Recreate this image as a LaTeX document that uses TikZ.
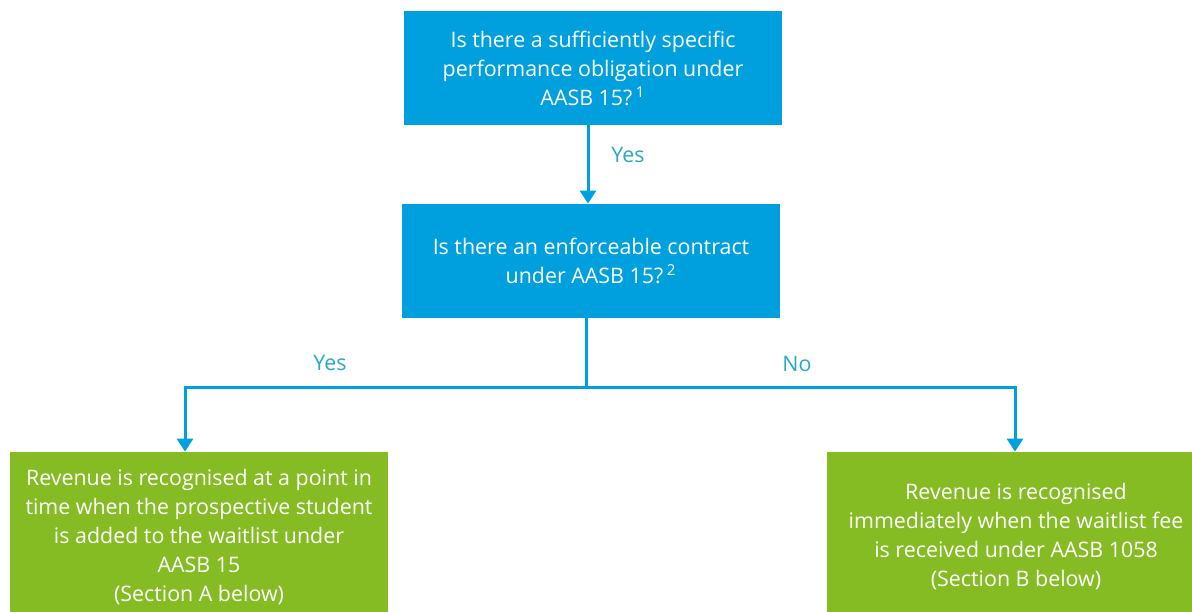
\documentclass[tikz,border=0pt]{standalone}
\usepackage{fontspec}
\setmainfont{Open Sans}
\usetikzlibrary{arrows.meta}

\definecolor{qblue}{RGB}{0,160,223}
\definecolor{rgreen}{RGB}{133,188,36}
\definecolor{ansteal}{RGB}{40,168,198}

\begin{document}
\begin{tikzpicture}[x=0.5pt,y=-0.5pt,font=\fontsize{10.7}{14.5}\selectfont]
        % Setup the styles for the boxes and arrows
        \tikzset{question/.style={fill=qblue,
                                  text=white,
                                  align=center,
                                  inner sep=0pt,
                                  minimum width=189pt,
                                  minimum height=57pt},
                 outcome/.style={question,
                                 fill=rgreen,
                                 minimum height=85pt},
                 flow/.style={draw=qblue,
                              line width=1.5pt},
                 answer/.style={text=ansteal}}

        \useasboundingbox (0,0) rectangle (1192,611);

        % Draw the boxes
        \node[question] at (593, 68)  (obligation) {Is there a sufficiently specific\\performance obligation under\\AASB 15?\,\textsuperscript{1}};
        \node[question] at (591, 261) (contract)   {Is there an enforceable contract\\under AASB 15?\,\textsuperscript{2}};
        \node[outcome]  at (199, 537) (pointtime)  {Revenue is recognised at a point in\\time when the prospective student\\is added to the waitlist under\\AASB 15\\(Section A below)};
        \node[outcome]  at (1016, 537) (immediate) {Revenue is recognised\\immediately when the waitlist fee\\is received under AASB 1058\\(Section B below)};

        % Branch points
        \coordinate (split) at (586, 387);
        \coordinate (armyes) at (185, 387);
        \coordinate (armno)  at (1015, 387);

        % Connect the boxes with arrows
        \draw[flow, -{Triangle[width=8pt,length=6.5pt]}]
            (obligation.south -| 588,0) -- (contract.north -| 588,0);
        \draw[flow] (contract.south -| split) -- (split);
        \draw[flow, -{Triangle[width=8pt,length=6.5pt]}]
            (split) -- (armyes) -- (armyes |- pointtime.north);
        \draw[flow, -{Triangle[width=8pt,length=6.5pt]}]
            (split) -- (armno) -- (armno |- immediate.north);

        % Answers
        \node[answer] at (628, 155) (yesfirst) {Yes};
        \node[answer] at (330, 363) (yesleft)  {Yes};
        \node[answer] at (797, 364) (noright)  {No};
\end{tikzpicture}
\end{document}
